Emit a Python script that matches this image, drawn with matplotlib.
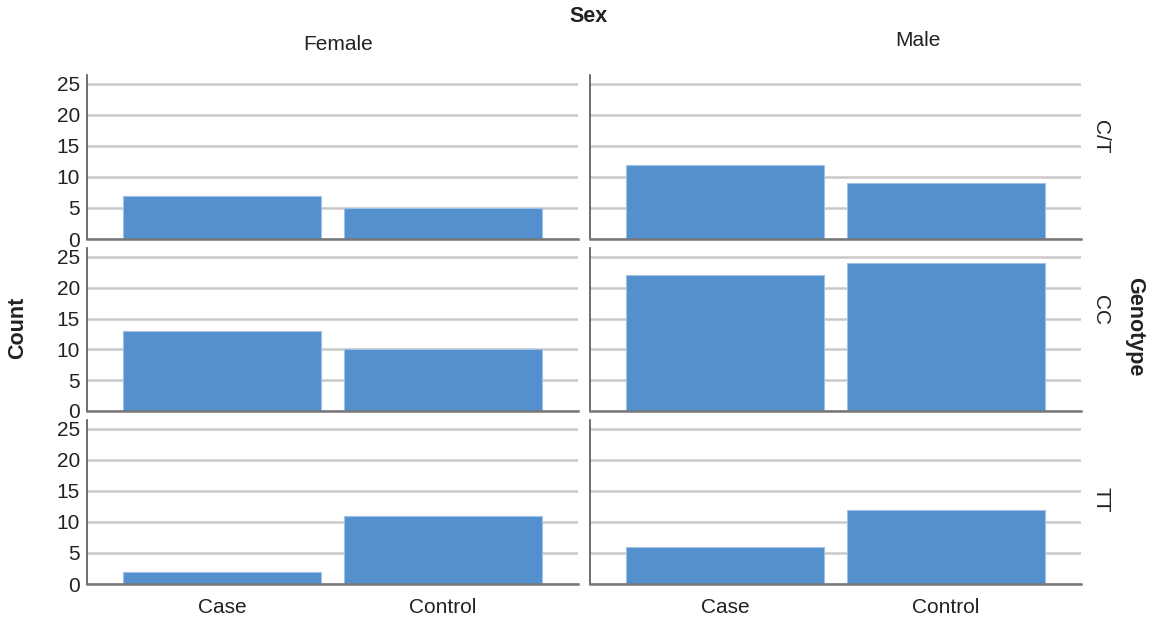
import matplotlib.pyplot as plt

plt.rcParams["font.family"] = ["Liberation Sans", "DejaVu Sans"]

groups = ["Case", "Control"]
sexes = ["Female", "Male"]
genotypes = ["C/T", "CC", "TT"]

# counts[genotype][sex] -> [Case, Control]
female_ct = [7, 5]
male_ct = [12, 9]
female_cc = [13, 10]
male_cc = [22, 24]
female_tt = [2, 11]
male_tt = [6, 12]

counts = {
    "C/T": {"Female": female_ct, "Male": male_ct},
    "CC": {"Female": female_cc, "Male": male_cc},
    "TT": {"Female": female_tt, "Male": male_tt},
}

yticks = [0, 5, 10, 15, 20, 25]

W, H = 1150, 622
fig = plt.figure(figsize=(W / 100, H / 100), dpi=100)

col_x = [87, 590]
col_w = 491
row_y = [(75, 239), (248, 411), (420, 584)]
row_label_y = [137, 310, 500]

bar_color = "#5490cd"
grid_color = "#c9c9c9"
text_color = "#222222"
fs = 15
fs_bold = 15.5

for r, geno in enumerate(genotypes):
    top, bot = row_y[r]
    for c, sex in enumerate(sexes):
        ax = fig.add_axes([col_x[c] / W, 1 - bot / H, col_w / W, (bot - top) / H])
        vals = counts[geno][sex]
        ax.bar(range(len(groups)), vals, width=0.895, color=bar_color,
               edgecolor="#9fc1e6", linewidth=0.8, zorder=3)
        ax.set_xlim(-0.61, 1.61)
        ax.set_ylim(0, 26.45)
        ax.set_yticks(yticks)
        ax.yaxis.grid(True, color=grid_color, linewidth=1.8, zorder=0)
        ax.set_axisbelow(True)
        for s in ["top", "right"]:
            ax.spines[s].set_visible(False)
        ax.spines["left"].set_color("#555555")
        ax.spines["left"].set_linewidth(1.2)
        ax.spines["bottom"].set_color("#777777")
        ax.spines["bottom"].set_linewidth(1.8)
        ax.spines["bottom"].set_zorder(4)
        ax.tick_params(length=0, labelsize=fs, colors=text_color, pad=5)
        if c == 1:
            ax.set_yticklabels([])
        if r < 2:
            ax.set_xticks([])
        else:
            ax.set_xticks(range(len(groups)))
            ax.set_xticklabels(groups, fontsize=fs)
            ax.tick_params(axis="x", pad=10)
    fig.text(1101 / W, 1 - row_label_y[r] / H, geno, rotation=-90,
             ha="center", va="center", fontsize=fs, color=text_color)

fig.text(589 / W, 1 - 17 / H, "Sex", ha="center", va="center",
         fontsize=fs_bold, fontweight="bold", color=text_color)
fig.text(338 / W, 1 - 45 / H, "Female", ha="center", va="center",
         fontsize=fs, color=text_color)
fig.text(918 / W, 1 - 40 / H, "Male", ha="center", va="center",
         fontsize=fs, color=text_color)
fig.text(18 / W, 1 - 328 / H, "Count", rotation=90, ha="center", va="center",
         fontsize=fs_bold, fontweight="bold", color=text_color)
fig.text(1135 / W, 1 - 327 / H, "Genotype", rotation=-90, ha="center", va="center",
         fontsize=fs_bold, fontweight="bold", color=text_color)

fig.savefig("out.png", dpi=100)
